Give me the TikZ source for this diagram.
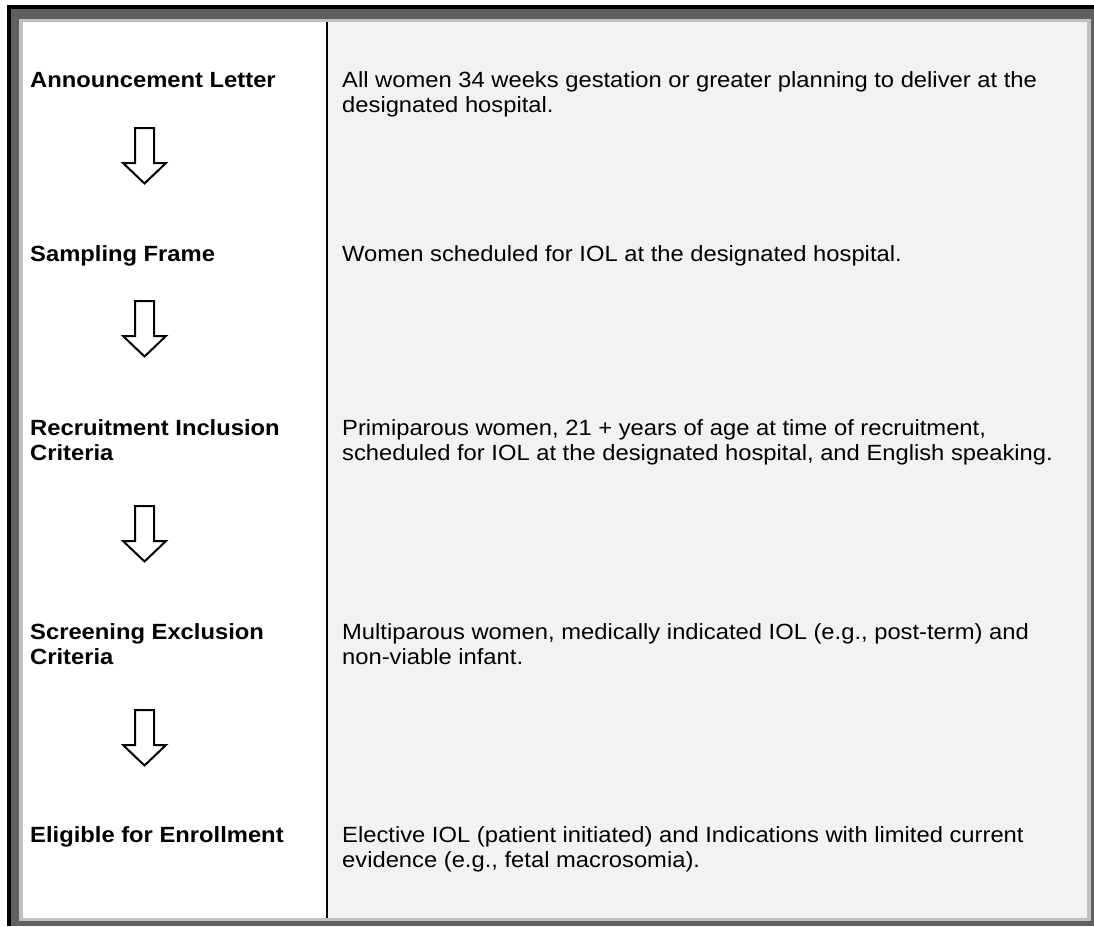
\documentclass[tikz,border=0pt]{standalone}
\usepackage{fontspec}
\setmainfont{Liberation Sans}[FakeStretch=1.08]
\definecolor{frameouter}{HTML}{606060}
\definecolor{frameinner}{HTML}{C0C0C0}
\definecolor{panelgray}{HTML}{F2F2F2}
\tikzset{
  stagelabel/.style={anchor=base west, inner sep=0pt, font=\bfseries},
  stagetext/.style={anchor=base west, inner sep=0pt},
  blockarrow/.pic={
    \draw[line width=2pt, fill=white, line join=miter]
      (-9.5,0) -- (9.5,0) -- (9.5,35) -- (21.5,35) -- (0,55.5)
      -- (-21.5,35) -- (-9.5,35) -- cycle;
  }
}
\newcommand{\lines}[2]{\parbox[t]{#1pt}{#2}}
\begin{document}
\begin{tikzpicture}[x=1pt, y=-1pt]
\fontsize{22}{25.5}\selectfont
\useasboundingbox (0,0) rectangle (1094,926);
% framed border: black shadow, dark frame, light inner rim
\fill[white] (0,0) rectangle (1094,926);
\fill[black] (7,5) rectangle (1094,926);
\fill[frameouter] (11,9) rectangle (1094,926);
\fill[frameinner] (19,19) rectangle (1091,921);
% the two table columns
\fill[white] (23,22) rectangle (327,918);
\fill[panelgray] (327,22) rectangle (1087,918);
\draw[line width=2pt] (327,22) -- (327,918);

% stage labels
\node[stagelabel] (ann) at (30,87) {Announcement Letter};
\node[stagelabel] (samp) at (30,261) {Sampling Frame};
\node[stagelabel] (recr) at (30,435) {\lines{290}{Recruitment Inclusion\\Criteria}};
\node[stagelabel] (scr) at (30,639) {\lines{290}{Screening Exclusion\\Criteria}};
\node[stagelabel] (elig) at (30,842) {Eligible for Enrollment};

% flow arrows between stages
\pic at (144.5,128) {blockarrow};
\pic at (144.5,301) {blockarrow};
\pic at (144.5,506) {blockarrow};
\pic at (144.5,710) {blockarrow};

% stage descriptions
\node[stagetext] (d1) at (342,87) {\lines{740}{All women 34 weeks gestation or greater planning to deliver at the\\designated hospital.}};
\node[stagetext] (d2) at (342,261) {Women scheduled for IOL at the designated hospital.};
\node[stagetext] (d3) at (342,435) {\lines{740}{Primiparous women, 21 + years of age at time of recruitment,\\scheduled for IOL at the designated hospital, and English speaking.}};
\node[stagetext] (d4) at (342,639) {\lines{740}{Multiparous women, medically indicated IOL (e.g., post-term) and\\non-viable infant.}};
\node[stagetext] (d5) at (342,842) {\lines{740}{Elective IOL (patient initiated) and Indications with limited current\\evidence (e.g., fetal macrosomia).}};
\end{tikzpicture}
\end{document}
